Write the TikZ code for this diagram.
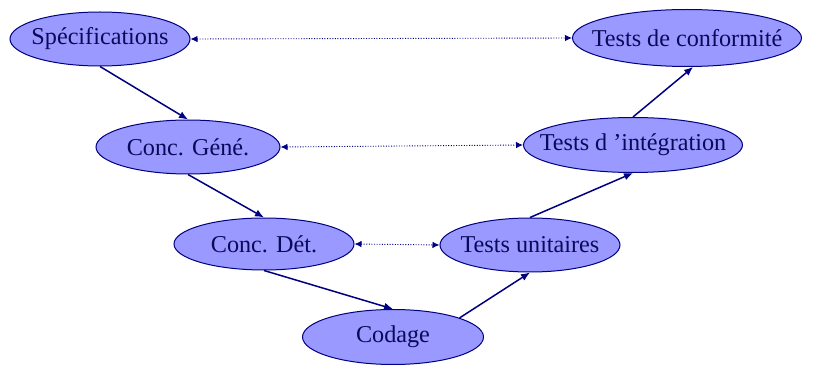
\documentclass[tikz,border=0pt]{standalone}
\usepackage{fontspec}
\setmainfont{Liberation Serif}
\usetikzlibrary{shapes.geometric,arrows.meta}
\definecolor{stagefill}{HTML}{9999FF}
\definecolor{navyline}{HTML}{000080}
\definecolor{navytext}{HTML}{0A0A5A}
\tikzset{
  stage/.style={ellipse, draw=navyline, fill=stagefill, line width=1pt, inner sep=0pt},
  lbl/.style={text=navytext, font=\fontsize{24.2}{27}\selectfont, inner sep=0pt},
  flow/.style={draw=navyline, line width=1.5pt, -{Latex[length=9pt,width=7.5pt]}},
  link/.style={draw=navyline, line width=0.9pt, dash pattern=on 1pt off 1.6pt,
    {Latex[length=7pt,width=6.5pt]}-{Latex[length=7pt,width=6.5pt]}}
}
\begin{document}
\begin{tikzpicture}[x=1pt,y=-1pt]
  \useasboundingbox (0,0) rectangle (817,366);
  % left branch: design stages
  \node[stage, minimum width=180pt, minimum height=54pt] (spec) at (100,39) {};
  \node[lbl] (spec-l) at (spec) {Spécifications};
  \node[stage, minimum width=184pt, minimum height=54pt] (gene) at (188,147) {};
  \node[lbl] (gene-l) at (gene) {Conc. Géné.};
  \node[stage, minimum width=180pt, minimum height=52pt] (det) at (264,244) {};
  \node[lbl] (det-l) at (det) {Conc. Dét.};
  % bottom of the V
  \node[stage, minimum width=181pt, minimum height=55pt] (code) at (393,337) {};
  \node[lbl] (code-l) at (code) {Codage};
  % right branch: test stages
  \node[stage, minimum width=180pt, minimum height=54pt] (unit) at (530,245) {};
  \node[lbl] (unit-l) at (unit) {Tests unitaires};
  \node[stage, minimum width=219pt, minimum height=55pt] (integ) at (633,145) {};
  \node[lbl] (integ-l) at (integ) {Tests d ’intégration};
  \node[stage, minimum width=229pt, minimum height=57pt] (conf) at (687,38) {};
  \node[lbl] (conf-l) at (conf) {Tests de conformité};
  % V-shaped flow
  \draw[flow] (spec.south) -- (gene.north);
  \draw[flow] (gene.south) -- (det.north);
  \draw[flow] (det.south) -- (code.north);
  \draw[flow] (code.16) -- (unit.south);
  \draw[flow] (unit.north) -- (integ.south);
  \draw[flow] (integ.north) -- (conf.282);
  % correspondences between design and test stages
  \draw[link] (spec.east) -- (conf.west);
  \draw[link] (gene.east) -- (integ.west);
  \draw[link] (det.east) -- (unit.west);
\end{tikzpicture}
\end{document}
